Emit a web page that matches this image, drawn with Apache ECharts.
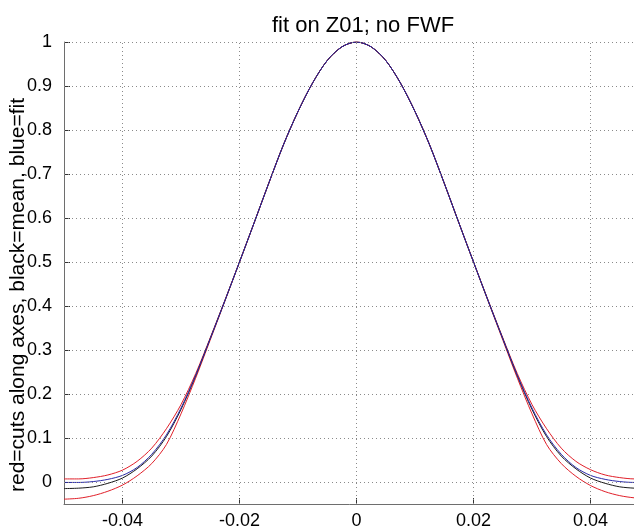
<!DOCTYPE html>
<html>
<head>
<meta charset="utf-8">
<script src="https://cdn.jsdelivr.net/npm/echarts@6/dist/echarts.min.js"></script>
<style>
html,body{margin:0;padding:0;background:#fff;}
#chart{width:634px;height:531px;}
</style>
</head>
<body>
<div id="chart"></div>
<script>
const xValues = [-0.05,-0.0475,-0.045,-0.0425,-0.04,-0.0375,-0.035,-0.0325,-0.03,-0.0275,-0.025,-0.0225,-0.02,-0.0175,-0.015,-0.0125,-0.01,-0.0075,-0.005,-0.0025,0,
  0.0025,0.005,0.0075,0.01,0.0125,0.015,0.0175,0.02,0.0225,0.025,0.0275,0.03,0.0325,0.035,0.0375,0.04,0.0425,0.045,0.0475,0.05];

const redCutA = [0.007,0.007,0.010,0.016,0.027,0.047,0.077,0.121,0.176,0.246,0.328,0.413,0.5,0.589,0.679,0.766,0.842,0.907,0.958,0.989,1.0,
  0.989,0.958,0.907,0.842,0.766,0.679,0.589,0.5,0.413,0.328,0.246,0.176,0.121,0.077,0.047,0.028,0.016,0.010,0.007,0.007];
const redCutB = [-0.039,-0.037,-0.031,-0.021,-0.007,0.014,0.042,0.085,0.155,0.236,0.323,0.411,0.5,0.589,0.679,0.766,0.842,0.907,0.958,0.989,1.0,
  0.989,0.958,0.907,0.842,0.766,0.679,0.589,0.5,0.411,0.323,0.236,0.155,0.085,0.042,0.013,-0.008,-0.022,-0.031,-0.036,-0.038];
const blackMean = [-0.015,-0.014,-0.011,-0.003,0.009,0.030,0.059,0.103,0.165,0.241,0.326,0.412,0.5,0.589,0.679,0.766,0.842,0.907,0.958,0.989,1.0,
  0.989,0.958,0.907,0.842,0.766,0.679,0.589,0.5,0.412,0.326,0.241,0.165,0.103,0.059,0.030,0.009,-0.003,-0.011,-0.014,-0.015];
const blueFit = [-0.001,-0.001,0.001,0.006,0.015,0.033,0.063,0.107,0.168,0.242,0.326,0.412,0.5,0.589,0.679,0.766,0.842,0.907,0.958,0.989,1.0,
  0.989,0.958,0.907,0.842,0.766,0.679,0.589,0.5,0.412,0.326,0.242,0.168,0.107,0.063,0.033,0.015,0.006,0.001,-0.001,-0.001];

const xTicks = [-0.04,-0.02,0,0.02,0.04];
const yTicks = [0,0.1,0.2,0.3,0.4,0.5,0.6,0.7,0.8,0.9,1];
const titleText = 'fit on Z01; no FWF';
const yLabel = 'red=cuts along axes, black=mean, blue=fit';

const FONT = '"Liberation Sans", Arial, sans-serif';
const pair = arr => xValues.map((x, i) => [x, arr[i]]);

const gridLineStyle = {color: '#8a8a8a', type: [1, 3], width: 1};
const gridMarks = xTicks.map(v => ({xAxis: v})).concat(yTicks.map(v => ({yAxis: v})));

const chart = echarts.init(document.getElementById('chart'), null, {renderer: 'canvas'});
chart.setOption({
  animation: false,
  backgroundColor: '#ffffff',
  title: {
    text: titleText,
    left: 358, top: 10, textAlign: 'center',
    textStyle: {fontFamily: FONT, fontSize: 22, fontWeight: 'normal', color: '#000'}
  },
  graphic: [{
    type: 'text', x: 18, y: 295, rotation: Math.PI / 2, silent: true,
    style: {text: yLabel, fontFamily: FONT, fontSize: 21, fill: '#000',
      align: 'center', verticalAlign: 'middle'}
  }],
  grid: {left: 64, top: 42, right: -15, bottom: 27, outerBoundsMode: 'none', containLabel: false},
  xAxis: {
    type: 'value', min: -0.05, max: 0.05,
    axisLine: {show: true, onZero: false, lineStyle: {color: '#6e6e6e', width: 1}},
    axisTick: {show: true, inside: true, length: 6, customValues: xTicks, lineStyle: {color: '#333'}},
    axisLabel: {customValues: xTicks, fontFamily: FONT, fontSize: 18, color: '#000', margin: 8,
      formatter: v => (Math.abs(v) < 1e-12 ? '0' : String(+v.toFixed(2)))},
    splitLine: {show: false}
  },
  yAxis: {
    type: 'value', min: -0.05, max: 1,
    axisLine: {show: true, onZero: false, lineStyle: {color: '#6e6e6e', width: 1}},
    axisTick: {show: true, inside: true, length: 6, customValues: yTicks, lineStyle: {color: '#333'}},
    axisLabel: {customValues: yTicks, fontFamily: FONT, fontSize: 18, color: '#000', margin: 12,
      formatter: v => (Math.abs(v) < 1e-12 ? '0' : String(+v.toFixed(1)))},
    splitLine: {show: false}
  },
  series: [
    {type: 'line', name: 'grid', data: [], silent: true,
      markLine: {silent: true, symbol: ['none', 'none'], label: {show: false},
        lineStyle: gridLineStyle, emphasis: {disabled: true}, data: gridMarks}},
    {type: 'line', name: 'cut A', data: pair(redCutA), showSymbol: false, smooth: 0.3,
      lineStyle: {color: '#e0202a', width: 1}, color: '#e0202a'},
    {type: 'line', name: 'cut B', data: pair(redCutB), showSymbol: false, smooth: 0.3,
      lineStyle: {color: '#e0202a', width: 1}, color: '#e0202a'},
    {type: 'line', name: 'mean', data: pair(blackMean), showSymbol: false, smooth: 0.3,
      lineStyle: {color: '#1a1a1a', width: 1}, color: '#1a1a1a'},
    {type: 'line', name: 'fit', data: pair(blueFit), showSymbol: false, smooth: 0.3,
      lineStyle: {color: '#2a2aa8', width: 1}, color: '#2a2aa8'}
  ]
});
</script>
</body>
</html>
